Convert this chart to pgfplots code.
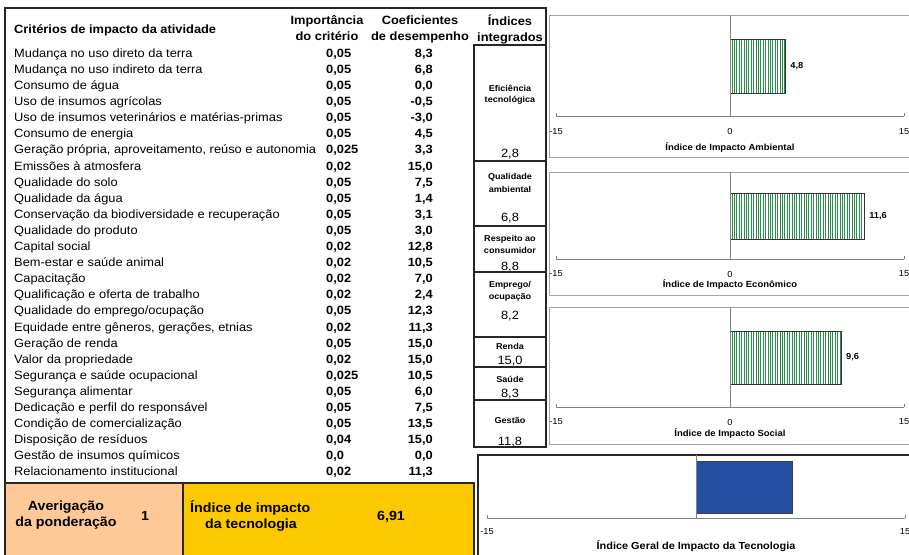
\documentclass[border=0pt]{standalone}
\usepackage{pgfplots}
\pgfplotsset{compat=1.18}
\usepackage{fontspec}
\setmainfont[FakeStretch=1.07]{Liberation Sans}
\usetikzlibrary{patterns.meta}

\definecolor{verde}{RGB}{40,140,75}
\definecolor{azul}{RGB}{36,78,160}
\definecolor{laranja}{RGB}{253,201,153}
\definecolor{amarelo}{RGB}{252,200,0}
\definecolor{moldura}{RGB}{165,165,165}
\definecolor{eixo}{RGB}{130,130,130}

\newcommand{\fs}[1]{\fontsize{#1}{#1}\selectfont}

\pgfplotsset{
  painel/.style={
    scale only axis, width=348pt,
    xmin=-15, xmax=15, ymin=0, ymax=1,
    axis x line*=bottom, axis y line=none,
    xtick={-15,0,15}, ytick=\empty,
    tick align=inside, major tick length=3pt,
    x axis line style={eixo, line width=0.7pt},
    every tick/.style={eixo, line width=0.7pt},
    /pgf/number format/assume math mode=true,
    xticklabel style={font=\fs{8.7}, anchor=center},
    xlabel style={font=\bfseries\fs{8.9}, at={(axis description cs:0.5,0)}, anchor=center},
    xbar, clip=false,
    point meta=explicit symbolic,
    nodes near coords,
    nodes near coords style={font=\bfseries\fs{8.7}, anchor=west, xshift=1pt},
  },
  barra/.style={draw=black!80, line width=0.8pt, fill=white,
    postaction={pattern={Lines[angle=90,distance=2.4pt,line width=1pt]}, pattern color=verde}},
}

\begin{document}
\begin{tikzpicture}
\path[use as bounding box] (0pt,0pt) rectangle (909pt,-554pt);
\begin{scope}[x=1pt,y=-1pt]

% tabela de criterios
\node[anchor=base west, inner sep=0, font=\bfseries\fs{12}] at (14,33.3) {Critérios de impacto da atividade};
\node[inner sep=0, font=\bfseries\fs{12}, anchor=base] at (327,24.3) {Importância};
\node[inner sep=0, font=\bfseries\fs{12}, anchor=base] at (327,40.3) {do critério};
\node[inner sep=0, font=\bfseries\fs{12}, anchor=base] at (420,24.3) {Coeficientes};
\node[inner sep=0, font=\bfseries\fs{12}, anchor=base] at (420,40.3) {de desempenho};
\node[inner sep=0, font=\bfseries\fs{12}, anchor=base] at (510,25.3) {Índices};
\node[inner sep=0, font=\bfseries\fs{12}, anchor=base] at (510,41.3) {integrados};

\foreach \nome/\imp/\coef [count=\i from 0] in {
  {Mudança no uso direto da terra}/{0,05}/{8,3},
  {Mudança no uso indireto da terra}/{0,05}/{6,8},
  {Consumo de água}/{0,05}/{0,0},
  {Uso de insumos agrícolas}/{0,05}/{-0,5},
  {Uso de insumos veterinários e matérias-primas}/{0,05}/{-3,0},
  {Consumo de energia}/{0,05}/{4,5},
  {Geração própria, aproveitamento, reúso e autonomia}/{0,025}/{3,3},
  {Emissões à atmosfera}/{0,02}/{15,0},
  {Qualidade do solo}/{0,05}/{7,5},
  {Qualidade da água}/{0,05}/{1,4},
  {Conservação da biodiversidade e recuperação}/{0,05}/{3,1},
  {Qualidade do produto}/{0,05}/{3,0},
  {Capital social}/{0,02}/{12,8},
  {Bem-estar e saúde animal}/{0,02}/{10,5},
  {Capacitação}/{0,02}/{7,0},
  {Qualificação e oferta de trabalho}/{0,02}/{2,4},
  {Qualidade do emprego/ocupação}/{0,05}/{12,3},
  {Equidade entre gêneros, gerações, etnias}/{0,02}/{11,3},
  {Geração de renda}/{0,05}/{15,0},
  {Valor da propriedade}/{0,02}/{15,0},
  {Segurança e saúde ocupacional}/{0,025}/{10,5},
  {Segurança alimentar}/{0,05}/{6,0},
  {Dedicação e perfil do responsável}/{0,05}/{7,5},
  {Condição de comercialização}/{0,05}/{13,5},
  {Disposição de resíduos}/{0,04}/{15,0},
  {Gestão de insumos químicos}/{0,0}/{0,0},
  {Relacionamento institucional}/{0,02}/{11,3}}{
  \node[anchor=base west, inner sep=0, font=\fs{12}] at (14,57.3+16.1*\i) {\nome};
  \node[anchor=base west, inner sep=0, font=\bfseries\fs{12}] at (326,57.3+16.1*\i) {\imp};
  \node[anchor=base east, inner sep=0, font=\bfseries\fs{12}] at (433,57.3+16.1*\i) {\coef};
}

% moldura externa
\draw[line width=1.6pt, black!85] (5,556) -- (5,8) -- (546,8) -- (546,45);

% indices integrados
\foreach \ya/\yb/\la/\lb/\ma/\mb/\val/\vy in {
  45/161/{Eficiência}/{tecnológica}/88/100/{2,8}/157,
  161/226/{Qualidade}/{ambiental}/177/189/{6,8}/221,
  226/272/{Respeito ao}/{consumidor}/239/250/{8,8}/270,
  272/337/{Emprego/}/{ocupação}/285/297/{8,2}/319,
  337/367/{Renda}/{}/346/0/{15,0}/364,
  367/400/{Saúde}/{}/379/0/{8,3}/397,
  400/447/{Gestão}/{}/420/0/{11,8}/445}{
  \draw[line width=1.6pt, black!85] (474,\ya) rectangle (546,\yb);
  \node[inner sep=0, font=\bfseries\fs{8.5}] at (510,\ma) {\la};
  \node[inner sep=0, font=\bfseries\fs{8.5}] at (510,\mb) {\lb};
  \node[inner sep=0, font=\fs{12}, anchor=base] at (510,\vy) {\val};
}

% caixas inferiores
\filldraw[fill=laranja, draw=black!85, line width=1.6pt] (5,483) rectangle (183,558);
\filldraw[fill=amarelo, draw=black!85, line width=1.6pt] (183,483) rectangle (474,558);
\node[inner sep=0, font=\bfseries\fs{13.3}] at (66,507) {Averigação};
\node[inner sep=0, font=\bfseries\fs{13.3}] at (66,523) {da ponderação};
\node[inner sep=0, font=\bfseries\fs{13.3}] at (145,516) {1};
\node[inner sep=0, font=\bfseries\fs{13.3}, anchor=west] at (190,508) {Índice de impacto};
\node[inner sep=0, font=\bfseries\fs{13.3}] at (251,525) {da tecnologia};
\node[inner sep=0, font=\bfseries\fs{13.3}] at (391,517) {6,91};

% molduras dos graficos
\draw[moldura, line width=0.8pt] (549,15) rectangle (915,157);
\draw[moldura, line width=0.8pt] (549,172) rectangle (915,295);
\draw[moldura, line width=0.8pt] (549,307) rectangle (915,444);
\draw[black!85, line width=1.4pt] (478,455) rectangle (915,560);
\end{scope}

% Indice de Impacto Ambiental
\begin{axis}[painel, at={(556pt,-116pt)}, anchor=south west, height=101pt,
  bar width=54pt,
  xticklabel style={yshift=-16pt}, xlabel style={yshift=-31pt},
  xlabel={Índice de Impacto Ambiental}]
  \addplot[barra] coordinates {(4.8,0.495) [4,8]};
  \draw[eixo, line width=0.7pt] (axis cs:0,0) -- (axis cs:0,1);
\end{axis}

% Indice de Impacto Economico
\begin{axis}[painel, at={(556pt,-259pt)}, anchor=south west, height=87pt,
  bar width=46pt,
  xticklabel style={yshift=-15pt}, xlabel style={yshift=-25pt},
  xlabel={Índice de Impacto Econômico}]
  \addplot[barra] coordinates {(11.6,0.494) [11,6]};
  \draw[eixo, line width=0.7pt] (axis cs:0,0) -- (axis cs:0,1);
\end{axis}

% Indice de Impacto Social
\begin{axis}[painel, at={(556pt,-407pt)}, anchor=south west, height=100pt,
  bar width=53pt,
  xticklabel style={yshift=-15pt}, xlabel style={yshift=-26pt},
  xlabel={Índice de Impacto Social}]
  \addplot[barra] coordinates {(9.6,0.495) [9,6]};
  \draw[eixo, line width=0.7pt] (axis cs:0,0) -- (axis cs:0,1);
\end{axis}

% Indice Geral de Impacto da Tecnologia
\begin{axis}[painel, at={(487pt,-518pt)}, anchor=south west, width=418pt, height=63pt,
  bar width=52pt, xtick={-15,15}, nodes near coords={},
  xticklabel style={yshift=-14pt}, xlabel style={yshift=-28pt, font=\bfseries\fs{10.2}},
  xlabel={Índice Geral de Impacto da Tecnologia}]
  \addplot[fill=azul, draw=black!75, line width=0.8pt] coordinates {(6.91,0.49) []};
  \draw[eixo, line width=0.7pt] (axis cs:0,0) -- (axis cs:0,1);
\end{axis}
\end{tikzpicture}
\end{document}
